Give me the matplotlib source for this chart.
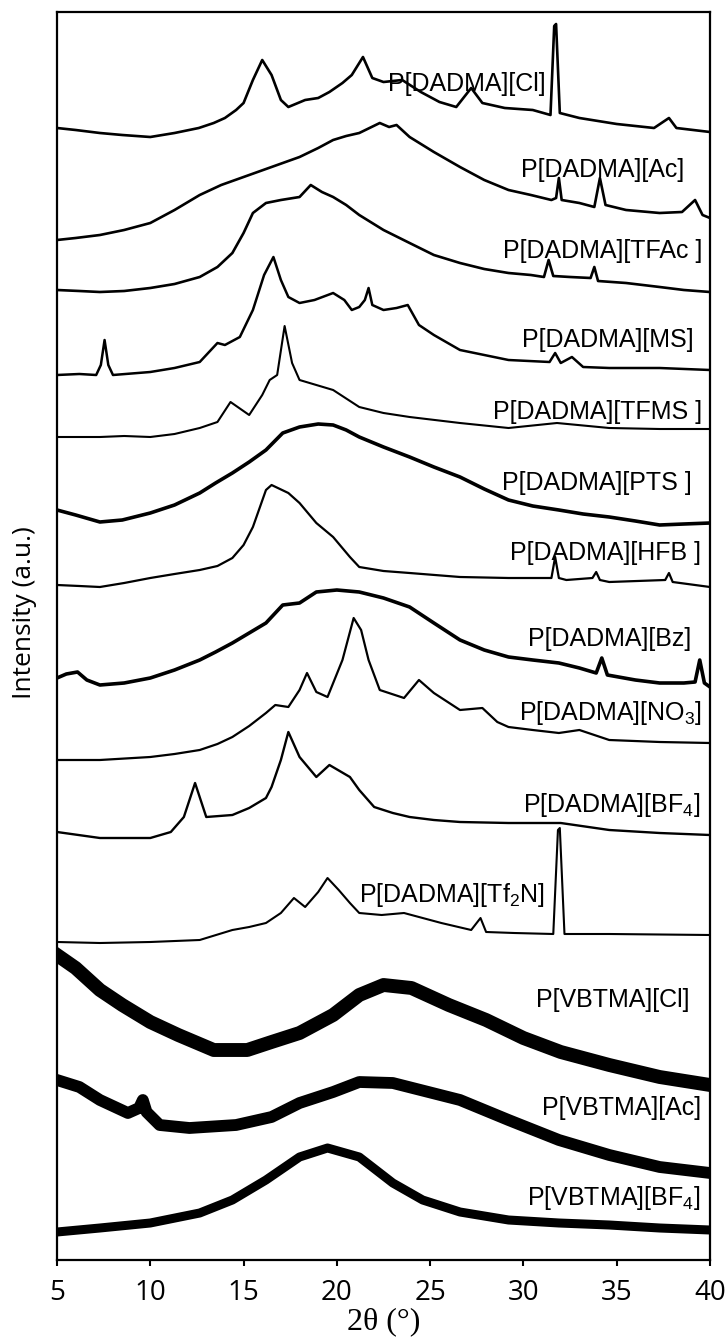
import matplotlib
matplotlib.use("Agg")
import matplotlib.pyplot as plt

# 2-theta (deg) and stacked intensity (a.u.) for each polymer
cl_tt = [5, 6, 7.3, 8.5, 10, 11.3, 12.6, 13.4, 14, 14.6, 15, 15.5, 16, 16.5, 17, 17.4, 18.3,
         19, 19.6, 20.3, 20.8, 21.4, 21.9, 22.5, 23.5, 24.5, 25.5, 26.4, 27.2, 27.8, 29, 30.5,
         31.45, 31.65, 31.75, 31.95, 33, 35, 37, 37.8, 38.2, 40]
cl_int = [1132, 1130, 1127, 1125, 1123, 1127, 1132, 1137, 1142, 1150, 1157, 1180, 1200, 1185,
          1160, 1153, 1160, 1162, 1168, 1177, 1185, 1203, 1182, 1178, 1180, 1168, 1158, 1153,
          1172, 1157, 1152, 1150, 1145, 1234, 1236, 1147, 1142, 1136, 1132, 1142, 1132, 1128]

ac_tt = [5, 6, 7.3, 8.6, 10, 11.3, 12.65, 13.8, 15, 16.5, 18, 19, 19.8, 20.5, 21.2, 22.3, 22.8,
         23.2, 23.9, 25.2, 26.6, 27.9, 29.2, 30.4, 31.5, 31.75, 31.9, 32.05, 33, 33.8, 34.1,
         34.4, 35.5, 37.3, 38.5, 39.2, 39.6, 40]
ac_int = [1020, 1022, 1025, 1030, 1037, 1050, 1065, 1075, 1083, 1093, 1103, 1112, 1120, 1124,
          1127, 1137, 1133, 1135, 1123, 1108, 1093, 1080, 1070, 1065, 1060, 1062, 1082, 1060,
          1057, 1053, 1082, 1055, 1050, 1047, 1048, 1060, 1045, 1042]

tfac_tt = [5, 6.2, 7.3, 8.6, 10, 11.3, 12.65, 13.6, 14.4, 15, 15.5, 16.2, 17, 18, 18.6, 19.2,
           19.8, 20.5, 21.2, 22.5, 23.9, 25.2, 26.6, 27.9, 29.2, 30.4, 31.1, 31.35, 31.6, 32.5,
           33.6, 33.8, 34.0, 35.5, 37.3, 38.6, 40]
tfac_int = [970, 969, 968, 969, 972, 976, 983, 993, 1007, 1027, 1047, 1057, 1060, 1063, 1075,
            1068, 1063, 1055, 1045, 1030, 1017, 1005, 997, 991, 987, 985, 983, 1000, 984, 983,
            982, 993, 979, 977, 973, 970, 968]

ms_tt = [5, 6.2, 7.1, 7.35, 7.55, 7.75, 8, 10, 11.3, 12.65, 13.6, 14, 14.8, 15.5, 16.1, 16.6,
         17.0, 17.4, 18, 18.8, 19.8, 20.4, 20.8, 21.2, 21.5, 21.7, 21.9, 22.5, 23.2, 23.8, 24.4,
         25.2, 26.6, 27.9, 29.2, 31.4, 31.7, 32.0, 32.6, 33.2, 34.6, 37.3, 40]
ms_int = [885, 886, 885, 895, 920, 895, 885, 888, 892, 898, 917, 915, 923, 950, 985, 1003, 980,
          963, 957, 960, 967, 960, 950, 953, 960, 972, 955, 950, 952, 955, 935, 925, 910, 905,
          900, 898, 907, 897, 903, 893, 892, 892, 890]

tfms_tt = [5, 6, 7.3, 8.6, 10, 11.3, 12.65, 13.6, 14.3, 15.3, 16.0, 16.4, 16.8, 17.2, 17.6,
           18, 18.9, 19.8, 21.2, 22.5, 23.9, 26.6, 29.2, 31.8, 34.6, 37.3, 40]
tfms_int = [823, 823, 823, 824, 823, 826, 832, 838, 858, 845, 865, 880, 885, 934, 897, 880,
            875, 870, 853, 847, 843, 837, 832, 837, 832, 831, 831]

pts_tt = [5, 6, 7.3, 8.5, 10, 11.3, 12.65, 13.5, 14.4, 15.3, 16.2, 17.1, 18, 19, 19.8, 20.5,
          21.2, 22.5, 23.9, 25.2, 26.6, 27.9, 29.2, 30.5, 31.9, 33.2, 34.6, 36, 37.3, 38.6, 40]
pts_int = [750, 745, 738, 740, 747, 755, 767, 777, 787, 798, 810, 827, 833, 836, 835, 830, 823,
           813, 803, 793, 783, 771, 760, 754, 750, 746, 743, 739, 735, 736, 737]

hfb_tt = [5, 6.2, 7.3, 8.6, 10, 11.3, 12.65, 13.6, 14.4, 15, 15.5, 16.2, 16.5, 17.4, 18, 18.9,
          19.8, 20.7, 21.2, 22.5, 23.9, 26.6, 29.2, 31.5, 31.7, 31.9, 32.3, 33.7, 33.9, 34.1,
          34.6, 37.6, 37.8, 38.0, 40]
hfb_int = [675, 674, 673, 677, 682, 686, 690, 694, 702, 715, 733, 770, 775, 767, 757, 737, 723,
           703, 693, 689, 687, 683, 682, 682, 703, 682, 680, 682, 688, 680, 678, 680, 687, 678,
           673]

bz_tt = [5, 5.5, 6.1, 6.6, 7.3, 8.6, 10, 11.3, 12.65, 13.5, 14.4, 15.3, 16.2, 17.1, 18, 18.9,
         20, 21.2, 22.5, 23.9, 25.2, 26.6, 27.9, 29.2, 30.5, 31.9, 33, 33.9, 34.2, 34.5, 36,
         37.3, 38.6, 39.2, 39.45, 39.7, 40]
bz_int = [582, 586, 588, 580, 575, 577, 582, 590, 600, 608, 617, 627, 637, 655, 657, 668, 670,
          668, 662, 653, 637, 620, 610, 603, 600, 597, 592, 587, 602, 585, 580, 577, 577, 578,
          600, 577, 573]

no3_tt = [5, 7.3, 10, 11.3, 12.65, 13.6, 14.4, 15.3, 16.2, 16.7, 17.4, 18.0, 18.4, 18.9, 19.5,
          20.3, 20.9, 21.3, 21.7, 22.3, 23.6, 24.4, 25.2, 26.6, 27.8, 28.6, 29.2, 30.5, 31.9,
          33.0, 34.6, 37.3, 40]
no3_int = [500, 500, 503, 506, 510, 516, 523, 534, 547, 555, 553, 570, 587, 568, 563, 600, 642,
           630, 600, 570, 562, 580, 567, 550, 552, 538, 533, 530, 527, 530, 520, 518, 517]

bf4_tt = [5, 7.3, 10, 11.1, 11.8, 12.4, 13.0, 14.4, 15.3, 16.2, 16.5, 17.0, 17.4, 18.0, 18.9,
          19.6, 20.7, 21.2, 22.0, 23.0, 23.9, 25.2, 26.6, 29.2, 32.0, 34.6, 37.3, 40]
bf4_int = [428, 422, 422, 428, 443, 477, 443, 445, 452, 462, 473, 500, 528, 503, 483, 495, 483,
           470, 453, 447, 443, 440, 438, 437, 437, 430, 427, 425]

tf2n_tt = [5, 7.3, 10, 12.65, 14.4, 15.3, 16.2, 17.0, 17.7, 18.3, 19.0, 19.5, 20.1, 20.7, 21.2,
           22.4, 23.6, 24.6, 25.6, 27.2, 27.7, 28.0, 29.5, 31.6, 31.85, 31.95, 32.2, 34.6, 40]
tf2n_int = [318, 317, 318, 320, 330, 333, 337, 347, 362, 353, 368, 382, 370, 357, 347, 345,
            347, 342, 337, 330, 342, 328, 327, 326, 430, 432, 326, 326, 325]

vcl_tt = [5, 6, 7.3, 8.5, 10, 11.5, 13.4, 15.2, 16.5, 18, 19.8, 21.2, 22.5, 24, 26, 28, 30, 32,
          34.6, 37.3, 40]
vcl_int = [305, 292, 270, 255, 238, 225, 210, 210, 218, 227, 245, 265, 275, 272, 255, 240, 222,
           208, 195, 183, 175]

vac_tt = [5, 6.2, 7.3, 8.8, 9.4, 9.6, 9.8, 10.5, 12.1, 14.6, 16.5, 18, 19.8, 21.2, 23, 26.6,
          29.2, 31.9, 34.6, 37.3, 40]
vac_int = [180, 173, 160, 147, 152, 160, 148, 135, 132, 135, 143, 157, 168, 178, 177, 160, 140,
           120, 105, 93, 87]

vbf4_tt = [5, 7.3, 10, 12.65, 14.4, 16.2, 18, 19.5, 21.2, 23, 24.6, 26.6, 29.2, 31.9, 34.6,
           37.3, 40]
vbf4_int = [28, 32, 37, 47, 60, 80, 103, 112, 103, 77, 60, 48, 40, 37, 35, 32, 30]

names = ['P[DADMA][Cl]', 'P[DADMA][Ac]', 'P[DADMA][TFAc ]', 'P[DADMA][MS]',
         'P[DADMA][TFMS ]', 'P[DADMA][PTS ]', 'P[DADMA][HFB ]', 'P[DADMA][Bz]',
         'P[DADMA][NO$_3$]', 'P[DADMA][BF$_4$]', 'P[DADMA][Tf$_2$N]',
         'P[VBTMA][Cl]', 'P[VBTMA][Ac]', 'P[VBTMA][BF$_4$]']

traces = [(cl_tt, cl_int), (ac_tt, ac_int), (tfac_tt, tfac_int), (ms_tt, ms_int),
          (tfms_tt, tfms_int), (pts_tt, pts_int), (hfb_tt, hfb_int), (bz_tt, bz_int),
          (no3_tt, no3_int), (bf4_tt, bf4_int), (tf2n_tt, tf2n_int),
          (vcl_tt, vcl_int), (vac_tt, vac_int), (vbf4_tt, vbf4_int)]

# noisier scans get a heavier stroke
widths = [1.9, 1.9, 1.9, 1.8, 1.5, 2.6, 1.6, 2.6, 1.6, 1.7, 1.5, 10, 8.5, 6.5]

# label anchors: (x, y, ha)
label_pos = [(31.2, 1176, 'right'), (38.6, 1090, 'right'), (39.6, 1009, 'right'),
             (39.1, 920, 'right'), (39.6, 848, 'right'), (39.0, 777, 'right'),
             (39.5, 707, 'right'), (39.0, 621, 'right'), (39.6, 547, 'right'),
             (39.5, 455, 'right'), (21.2, 365, 'left'), (38.9, 260, 'right'),
             (39.5, 152, 'right'), (39.5, 62, 'right')]

plt.rcParams['mathtext.default'] = 'regular'

fig = plt.figure(figsize=(7.27, 13.4), dpi=100)
ax = fig.add_axes([57/727, 80/1340, 653/727, 1248/1340])

for (tt, yy), lw in zip(traces, widths):
    ax.plot(tt, yy, color='black', lw=lw, solid_joinstyle='round')

for name, (lx, ly, ha) in zip(names, label_pos):
    ax.text(lx, ly, name, ha=ha, va='center', fontsize=18, family='Liberation Sans')

ax.set_xlim(5, 40)
ax.set_ylim(0, 1248)
ax.set_xticks(range(5, 41, 5))
ax.set_yticks([])
ax.tick_params(axis='x', direction='out', length=4, width=1.5, pad=10)
for lab in ax.get_xticklabels():
    lab.set_family('Open Sans')
    lab.set_fontsize(20)
for sp in ax.spines.values():
    sp.set_linewidth(1.6)

ax.set_xlabel('2θ (°)', family='Liberation Serif', fontsize=23, labelpad=0)
fig.text(25/727, 1 - 613/1340, 'Intensity (a.u.)', rotation=90, ha='center', va='center',
         family='Open Sans', fontsize=19)

fig.savefig('out.png', dpi=100)
